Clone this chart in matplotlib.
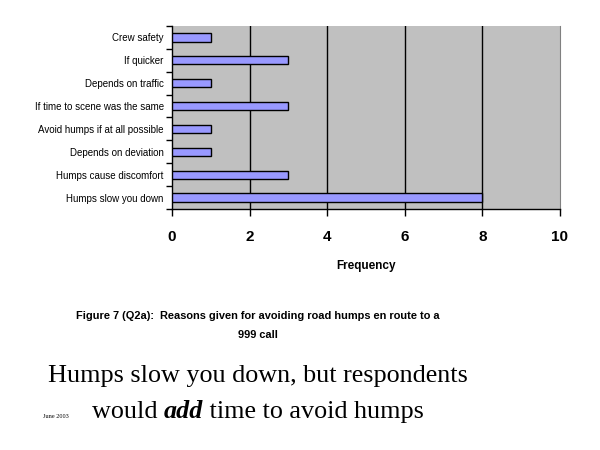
import matplotlib
matplotlib.use("Agg")
import matplotlib.pyplot as plt

categories = ["Crew safety", "If quicker", "Depends on traffic",
              "If time to scene was the same", "Avoid humps if at all possible",
              "Depends on deviation", "Humps cause discomfort", "Humps slow you down"]
values = [1, 3, 1, 3, 1, 1, 3, 8]
xticks = [0, 2, 4, 6, 8, 10]

fig = plt.figure(figsize=(6, 4.5), dpi=100)
ax = fig.add_axes([172/600, 1-209/450, 388/600, 183/450])
ax.set_facecolor("#C0C0C0")

n = len(categories)
ypos = list(range(n))[::-1]
ax.barh(ypos, values, height=0.36, color="#9999FF", edgecolor="black", linewidth=1, zorder=3)
ax.set_xlim(0, 10)
ax.set_ylim(-0.5, n - 0.5)
ax.set_xticks(xticks)
ax.set_xticklabels([str(t) for t in xticks], fontsize=11, fontweight="bold", family="Liberation Sans")
for x in xticks[1:-1]:
    ax.axvline(x, color="black", linewidth=1, zorder=1)

ax.set_yticks(ypos)
ax.set_yticklabels(categories, fontsize=7, family="Liberation Sans")
ax.tick_params(axis="y", length=0, pad=6)
ax.set_yticks([i - 0.5 for i in range(n + 1)], minor=True)
ax.tick_params(axis="y", which="minor", length=4, width=1, direction="out")
ax.tick_params(axis="x", length=5, width=1, direction="out", pad=10)

ax.spines["top"].set_visible(False)
ax.spines["right"].set_color("#808080")
ax.spines["left"].set_linewidth(1)
ax.spines["bottom"].set_linewidth(1)

ax.set_xlabel("Frequency", fontsize=8.5, fontweight="bold", family="Liberation Sans", labelpad=12)

cx = 258 / 600
fig.text(cx, 1-316/450, "Figure 7 (Q2a):  Reasons given for avoiding road humps en route to a",
         ha="center", va="center", fontsize=7.9, fontweight="bold", family="Liberation Sans")
fig.text(cx, 1-335/450, "999 call", ha="center", va="center", fontsize=7.9,
         fontweight="bold", family="Liberation Sans")

fs = 18.8
fig.text(cx, 1-382/450, "Humps slow you down, but respondents", ha="center", va="baseline",
         fontsize=fs, family="Liberation Serif")
t1 = "would "
t2 = "add"
t3 = " time to avoid humps"
fig.canvas.draw()
r = fig.canvas.get_renderer()
y2 = 1-418/450
p1 = fig.text(0, y2, t1, fontsize=fs, family="Liberation Serif", va="baseline")
p2 = fig.text(0, y2, t2, fontsize=fs, family="Liberation Serif", fontweight="bold", style="italic", va="baseline")
p3 = fig.text(0, y2, t3, fontsize=fs, family="Liberation Serif", va="baseline")
w = [p.get_window_extent(r).width for p in (p1, p2, p3)]
total = sum(w)
x = 258 - total / 2
for p, wi in zip((p1, p2, p3), w):
    p.set_x(x / 600)
    x += wi
fig.text(43/600, 1-416/450, "June 2003", fontsize=4.5, family="Liberation Serif", va="center")

fig.savefig("out.png", dpi=100)
